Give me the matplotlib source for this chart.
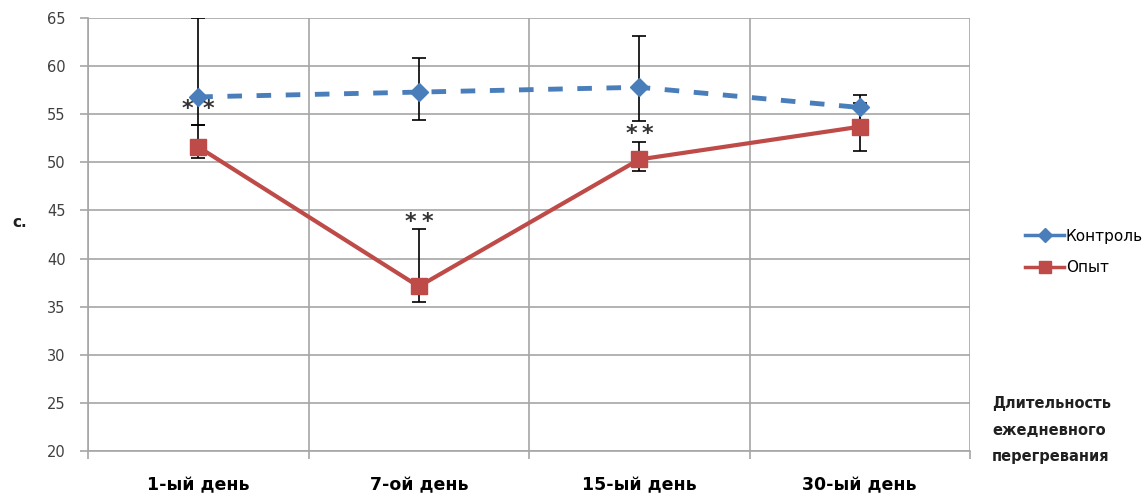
import matplotlib
matplotlib.use("Agg")
import matplotlib.pyplot as plt
from matplotlib.lines import Line2D
import numpy as np

plt.rcParams['font.family'] = ['DejaVu Sans']

categories = ['1-ый день', '7-ой день', '15-ый день', '30-ый день']
control = [56.8, 57.3, 57.8, 55.7]
control_err_low = [2.9, 2.9, 3.5, 1.3]
control_err_high = [8.2, 3.5, 5.3, 1.3]
experiment = [51.6, 37.1, 50.3, 53.7]
exp_err_low = [1.2, 1.6, 1.2, 2.5]
exp_err_high = [2.3, 6.0, 1.8, 2.5]
# significance marks: level of the pair of asterisks and their half-gap (pt)
star_y = [55.7, 44.0, 53.2, None]
star_gap = [7.5, 6.3, 5.6, None]
yticks = list(range(20, 66, 5))

blue = '#4a7ebb'
red = '#be4b48'
grid = '#a6a6a6'

fig = plt.figure(figsize=(11.44, 4.94), dpi=100)
ax = fig.add_axes([88 / 1144, 1 - 451 / 494, 882 / 1144, 433 / 494])

x = np.arange(len(categories))
ax.set_xlim(-0.5, len(categories) - 0.5)
ax.set_ylim(20, 65)

ax.errorbar(x, control, yerr=[control_err_low, control_err_high], fmt='none',
            ecolor='black', elinewidth=1.2, capsize=5, capthick=1.2, zorder=2)
ax.errorbar(x, experiment, yerr=[exp_err_low, exp_err_high], fmt='none',
            ecolor='black', elinewidth=1.2, capsize=5, capthick=1.2, zorder=2)

ax.plot(x, control, color=blue, lw=3.5, ls=(0, (3, 3)), marker='D', ms=9,
        mfc=blue, mec=blue, zorder=3, clip_on=False)
ax.plot(x, experiment, color=red, lw=3, marker='s', ms=12,
        mfc=red, mec=red, zorder=4, clip_on=False)

for xi, sy, g in zip(x, star_y, star_gap):
    if sy is None:
        continue
    for sign in (-1, 1):
        ax.annotate('*', xy=(xi, sy), xytext=(sign * g, 0),
                    textcoords='offset points', ha='center',
                    va='center_baseline', fontsize=16, fontweight='bold',
                    color='#333333', zorder=5)

ax.set_yticks(yticks)
ax.set_xticks(np.arange(-0.5, len(categories), 1.0))
ax.set_xticklabels([])
ax.set_xticks(x, minor=True)
ax.set_xticklabels(categories, minor=True, fontsize=12.5, fontweight='bold')
ax.tick_params(axis='x', which='minor', length=0, pad=18)
ax.tick_params(axis='x', which='major', length=6, color=grid, width=1.2)
ax.tick_params(axis='y', length=6, color=grid, width=1.2, labelsize=10.5,
               labelcolor='#404040', pad=10)

ax.grid(True, which='major', color=grid, lw=1.2)
ax.set_axisbelow(True)
for side in ['top', 'right']:
    ax.spines[side].set_visible(False)
ax.spines['left'].set_color(grid)
ax.spines['left'].set_linewidth(1.2)
ax.spines['bottom'].set_color(grid)
ax.spines['bottom'].set_linewidth(1.2)

fig.text(12 / 1144, 1 - 222 / 494, 'с.', fontsize=11, fontweight='bold',
         ha='left', va='center', color='#202020')
fig.text(992 / 1144, 1 - 430 / 494, 'Длительность\nежедневного\nперегревания',
         fontsize=10.5, fontweight='bold', ha='left', va='center',
         linespacing=1.95, color='#202020')

handles = [Line2D([], [], color=blue, lw=2.5, marker='D', ms=7),
           Line2D([], [], color=red, lw=2.5, marker='s', ms=9)]
fig.legend(handles, ['Контроль', 'Опыт'], loc='center left',
           bbox_to_anchor=(1017 / 1144, 1 - 252 / 494), frameon=False,
           fontsize=11, handlelength=2.6, handletextpad=0.1,
           labelspacing=1.1, borderpad=0)

fig.savefig('out.png', dpi=100, facecolor='white')
